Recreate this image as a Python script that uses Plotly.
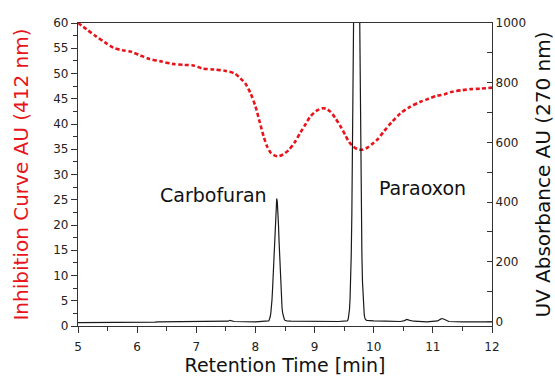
import plotly.graph_objects as go

# Inhibition curve (left axis, AU 412 nm)
inh_t = [5.00, 5.15, 5.30, 5.45, 5.60, 5.75, 5.90, 6.05, 6.20, 6.40, 6.60, 6.80, 6.95,
         7.10, 7.30, 7.50, 7.65, 7.75, 7.83, 7.92, 8.00, 8.07, 8.14, 8.20, 8.26, 8.32,
         8.39, 8.47, 8.56, 8.66, 8.76, 8.85, 8.93, 9.03, 9.13, 9.20, 9.27, 9.35, 9.44,
         9.52, 9.58, 9.65, 9.73, 9.80, 9.89, 9.97, 10.06, 10.17, 10.30, 10.45, 10.60,
         10.79, 10.93, 11.07, 11.20, 11.33, 11.50, 11.64, 11.80, 12.00]
inh_v = [60.0, 58.7, 57.4, 56.2, 55.1, 54.6, 54.3, 53.6, 52.9, 52.4, 51.9, 51.7, 51.6,
         51.0, 50.8, 50.5, 50.0, 49.0, 48.0, 46.0, 43.5, 40.5, 37.5, 35.5, 34.3, 33.8,
         33.6, 34.0, 34.8, 36.3, 38.3, 40.0, 41.5, 42.6, 43.1, 43.0, 42.4, 41.2, 39.5,
         37.8, 36.5, 35.6, 35.0, 34.9, 35.3, 36.0, 36.9, 38.5, 40.3, 42.1, 43.3,
         44.4, 45.0, 45.6, 45.9, 46.4, 46.7, 46.9, 47.0, 47.2]

# UV chromatogram (right axis, AU 270 nm)
uv_t = [5.00, 5.50, 6.00, 6.30, 6.35, 7.00, 7.50, 7.54, 7.57, 7.60, 7.64, 8.00, 8.20,
        8.21, 8.22, 8.23, 8.24, 8.25, 8.26, 8.27, 8.28, 8.29, 8.30, 8.31, 8.32, 8.33,
        8.34, 8.35, 8.36, 8.37, 8.38, 8.39, 8.40, 8.41, 8.42, 8.43, 8.44, 8.45, 8.46,
        8.47, 8.48, 8.49, 8.50, 8.53, 8.60, 9.00, 9.40, 9.55,
        9.56, 9.57, 9.58, 9.59, 9.60, 9.61, 9.62, 9.63, 9.64, 9.65, 9.66, 9.67, 9.68,
        9.69, 9.70, 9.71, 9.72, 9.73, 9.74, 9.75, 9.76, 9.77, 9.78, 9.79, 9.80, 9.81,
        9.82, 9.83, 9.84, 9.85, 9.86, 9.88, 9.92, 10.00, 10.20, 10.45, 10.52, 10.56,
        10.61, 10.68, 10.90, 11.08, 11.13, 11.16, 11.20, 11.27, 11.50, 12.00]
uv_v = [-4, -4, -3, -2, -1, -1, -1, 1, 4, 2, 0, -1, 0,
        1, 2, 4, 8, 16, 28, 46, 73, 110, 156, 210, 267, 323,
        370, 401, 412, 401, 370, 323, 267, 210, 156, 110, 73, 46, 29,
        18, 10, 6, 4, 2, 1, 0, 0, 2,
        4, 10, 20, 40, 76, 134, 224, 354, 532, 756, 1018, 1298, 1568,
        1794, 1946, 2000, 1946, 1794, 1568, 1298, 1018, 756, 532, 354, 224, 134,
        76, 42, 22, 12, 7, 4, 3, 2, 1, 0, 3, 7,
        4, 1, -1, 2, 8, 10, 7, 0, -1, -1]

x_ticks = [5, 6, 7, 8, 9, 10, 11, 12]

fig = go.Figure()
fig.add_trace(go.Scatter(
    x=inh_t, y=inh_v, mode="lines", yaxis="y",
    line=dict(color="#e8141b", width=2.6, dash="4px,2.5px", shape="spline", smoothing=0.8),
    showlegend=False, hoverinfo="skip"))
fig.add_trace(go.Scatter(
    x=uv_t, y=uv_v, mode="lines", yaxis="y2",
    line=dict(color="#1a1a1a", width=1.2),
    showlegend=False, hoverinfo="skip"))

font_family = "DejaVu Sans, Verdana, sans-serif"
axis_col = "#333333"

fig.update_layout(
    width=555, height=376,
    margin=dict(l=78, r=63, t=23, b=50, autoexpand=False),
    paper_bgcolor="white", plot_bgcolor="white",
    font=dict(family=font_family, size=12, color="#222"),
    xaxis=dict(
        range=[5, 12], tickvals=x_ticks, ticktext=[str(v) for v in x_ticks],
        automargin=False,
        showgrid=False, zeroline=False, showline=True, linecolor=axis_col, linewidth=1.2,
        mirror=True, ticks="outside", ticklen=6, tickcolor=axis_col, tickwidth=1.2,
        minor=dict(dtick=0.5, ticks="outside", ticklen=4, tickcolor=axis_col),
        tickfont=dict(size=12), ticklabelstandoff=3,
        title=dict(text="Retention Time [min]", font=dict(size=19, color="#111"), standoff=8),
    ),
    yaxis=dict(
        range=[0, 60], dtick=5, showgrid=False, zeroline=False, showline=True,
        automargin=False,
        linecolor=axis_col, linewidth=1.2, ticks="outside", ticklen=6,
        tickcolor=axis_col, tickwidth=1.2,
        minor=dict(dtick=2.5, ticks="outside", ticklen=4, tickcolor=axis_col),
        tickfont=dict(size=12),
        title=dict(text="Inhibition Curve AU (412 nm)", font=dict(size=20, color="#e8141b"), standoff=19),
    ),
    yaxis2=dict(
        range=[-15, 1000], dtick=200, tick0=0, overlaying="y", side="right",
        automargin=False,
        showgrid=False, zeroline=False, showline=True, linecolor=axis_col, linewidth=1.2,
        ticks="inside", ticklen=5, tickcolor=axis_col, tickwidth=1.2,
        minor=dict(dtick=100, ticks="inside", ticklen=5, tickcolor=axis_col),
        tickfont=dict(size=12),
        title=dict(text="UV Absorbance AU (270 nm)", font=dict(size=20, color="#111"), standoff=12),
    ),
    annotations=[
        dict(x=7.29, y=25.9, xref="x", yref="y", text="Carbofuran", showarrow=False,
             font=dict(size=19, color="#111")),
        dict(x=10.83, y=27.3, xref="x", yref="y", text="Paraoxon", showarrow=False,
             font=dict(size=19, color="#111")),
    ],
)

fig.write_html("out.html")
